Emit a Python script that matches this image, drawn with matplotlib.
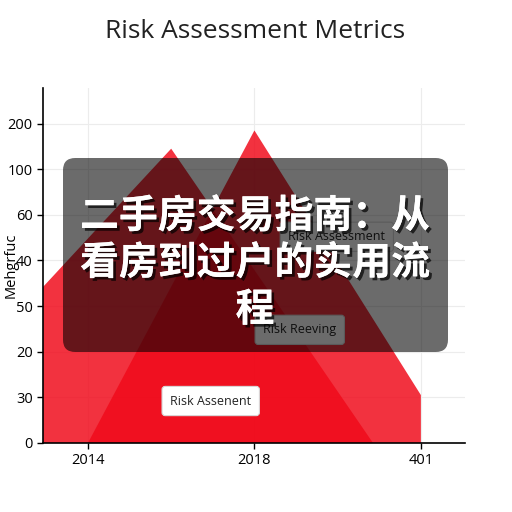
import matplotlib
matplotlib.use("Agg")
import matplotlib.pyplot as plt
from matplotlib.patches import FancyBboxPatch
import matplotlib.patheffects as pe

# data
years_a = [2012.9, 2016.0, 2020.85]
level_a = [3.4, 6.45, 0.0]
years_b = [2014.0, 2018.0, 2022.0, 2022.0]
level_b = [0.0, 6.85, 1.05, 0.0]

x_ticks = [2014, 2018, 2022]
x_labels = ["2014", "2018", "401"]
y_ticks = [0, 1, 2, 3, 4, 5, 6, 7]
y_labels = ["0", "30", "20", "50", "40", "60", "100", "200"]

notes = ["Risk Assessment", "Risk Reeving", "Risk Assenent"]
note_x = [2019.98, 2019.09, 2016.95]
note_y = [4.52, 2.48, 0.92]

title = "Risk Assessment Metrics"
ylabel = "Mehgrfuc"
banner = "二手房交易指南：从\n看房到过户的实用流\n程"

plt.rcParams["font.family"] = ["Open Sans", "DejaVu Sans"]

fig = plt.figure(figsize=(5.12, 5.12), dpi=100)
ax = fig.add_axes([43 / 512, 69 / 512, 422 / 512, 355 / 512])

red = (0.94, 0.04, 0.10)
ax.fill(years_a + [years_a[0]], level_a + [0.0], color=red, alpha=0.84, lw=0, zorder=2)
ax.fill(years_b, level_b, color=red, alpha=0.84, lw=0, zorder=2)

ax.set_xlim(2012.92, 2023.06)
ax.set_ylim(0, 7.78)
ax.set_xticks(x_ticks, x_labels)
ax.set_yticks(y_ticks, y_labels)
ax.tick_params(labelsize=10.5, length=4, width=1, colors="black")
ax.grid(True, color="#ececec", lw=0.8, zorder=0)
ax.set_axisbelow(True)
for side in ["top", "right"]:
    ax.spines[side].set_visible(False)
for side in ["left", "bottom"]:
    ax.spines[side].set_linewidth(1.2)

for txt, x, y in zip(notes, note_x, note_y):
    ax.text(x, y, txt, ha="center", va="center", fontsize=9, color="#222222", zorder=4,
            bbox=dict(boxstyle="round,pad=0.65,rounding_size=0.25", fc="white", ec="#d8d8d8", lw=0.8))

fig.text(0.498, 1 - 32 / 512, title, ha="center", va="center", fontsize=19, color="#222222")
fig.text(11 / 512, 1 - 265 / 512, ylabel, rotation=90, ha="center", va="center", fontsize=10.5)

box = FancyBboxPatch((63 / 512, 160 / 512), 385 / 512, 194 / 512,
                     boxstyle="round,pad=0,rounding_size=0.024",
                     transform=fig.transFigure, fc="black", ec="none", alpha=0.58, zorder=10)
fig.patches.append(box)

fig.text(0.498, 1 - 263 / 512, banner, ha="center", va="center", ma="center",
         fontsize=28, fontweight="bold", color="white", linespacing=1.25,
         family=["Noto Sans CJK SC", "DejaVu Sans"], zorder=11,
         path_effects=[pe.withSimplePatchShadow(offset=(2, -2), shadow_rgbFace="black", alpha=0.7),
                       pe.Normal()])

fig.savefig("out.png", dpi=100)
